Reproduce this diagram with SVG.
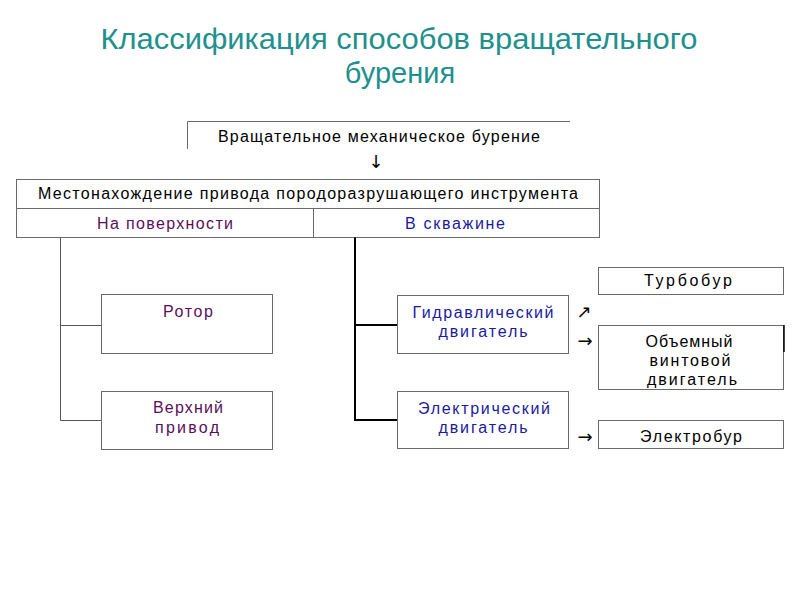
<svg xmlns="http://www.w3.org/2000/svg" width="800" height="600" viewBox="0 0 800 600">
<style>
.t{font-family:"Liberation Sans",Arial,sans-serif;font-size:16px;text-anchor:middle;fill:#000}
.p{fill:#5a0f5a}
.b{fill:#1a1a9e}
.ar{font-family:"DejaVu Sans",sans-serif;font-size:18px;text-anchor:middle;fill:#000}
.box{fill:#fff;stroke:#6a6a6a;stroke-width:1}
.title{font-family:"Liberation Sans",Arial,sans-serif;font-size:29px;text-anchor:middle;fill:#21908d}
</style>
<rect width="800" height="600" fill="#fff"/>
<g id="title">
<text class="title" x="399" y="49" textLength="597" lengthAdjust="spacingAndGlyphs">Классификация способов вращательного</text>
<text class="title" x="400" y="83">бурения</text>
</g>
<g id="top">
<path d="M187.5 149V121.5H570" fill="none" stroke="#6a6a6a"/>
<text class="t" x="379" y="142" textLength="322" lengthAdjust="spacing">Вращательное механическое бурение</text>
</g>
<g id="arrow-down"><text class="ar" x="376" y="168">↓</text></g>
<g id="location">
<rect class="box" x="16.5" y="179.5" width="583" height="58"/>
<line x1="16.5" y1="208.5" x2="599.5" y2="208.5" stroke="#6a6a6a"/>
<text class="t" x="308" y="199" textLength="540" lengthAdjust="spacing">Местонахождение привода породоразрушающего инструмента</text>
</g>
<g id="surface">
<text class="t p" x="165" y="229" textLength="136" lengthAdjust="spacing">На поверхности</text>
</g>
<g id="well">
<line x1="313.5" y1="208.5" x2="313.5" y2="237.5" stroke="#6a6a6a"/>
<text class="t b" x="455" y="229" textLength="100" lengthAdjust="spacing">В скважине</text>
</g>
<g id="connectors" fill="none">
<path d="M60.5 237.5V420.5H101M60.5 325.5H101" stroke="#555" stroke-width="1"/>
<path d="M355 237.5V420H397M355 325H397" stroke="#000" stroke-width="2"/>
</g>
<g id="rotor">
<rect class="box" x="101.5" y="294.5" width="171" height="59"/>
<text class="t p" x="188" y="317" textLength="50" lengthAdjust="spacing">Ротор</text>
</g>
<g id="topdrive">
<rect class="box" x="101.5" y="391.5" width="171" height="58"/>
<text class="t p" x="188" y="413" textLength="70" lengthAdjust="spacing">Верхний</text>
<text class="t p" x="187" y="433" textLength="64" lengthAdjust="spacing">привод</text>
</g>
<g id="hydraulic">
<rect class="box" x="397.5" y="295.5" width="171" height="58"/>
<text class="t b" x="483" y="318" textLength="141" lengthAdjust="spacing">Гидравлический</text>
<text class="t b" x="483" y="337" textLength="89" lengthAdjust="spacing">двигатель</text>
</g>
<g id="electric">
<rect class="box" x="397.5" y="391.5" width="171" height="57"/>
<text class="t b" x="484" y="414" textLength="132" lengthAdjust="spacing">Электрический</text>
<text class="t b" x="483" y="433" textLength="89" lengthAdjust="spacing">двигатель</text>
</g>
<g id="arrows">
<text class="ar" x="584" y="318">↗</text>
<text class="ar" x="585" y="347">→</text>
<text class="ar" x="585" y="443">→</text>
</g>
<g id="turbobur">
<rect class="box" x="598.5" y="267.5" width="185" height="27"/>
<text class="t" x="688" y="286" textLength="88" lengthAdjust="spacing">Турбобур</text>
</g>
<g id="screw">
<rect class="box" x="598.5" y="325.5" width="185" height="64"/>
<line x1="784" y1="325" x2="784" y2="352" stroke="#000" stroke-width="1.5"/>
<text class="t" x="689" y="347" textLength="87" lengthAdjust="spacing">Объемный</text>
<text class="t" x="690" y="366" textLength="81" lengthAdjust="spacing">винтовой</text>
<text class="t" x="692" y="385" textLength="90" lengthAdjust="spacing">двигатель</text>
</g>
<g id="electrobur">
<rect class="box" x="598.5" y="420.5" width="185" height="28"/>
<text class="t" x="691" y="442" textLength="102" lengthAdjust="spacing">Электробур</text>
</g>
</svg>
